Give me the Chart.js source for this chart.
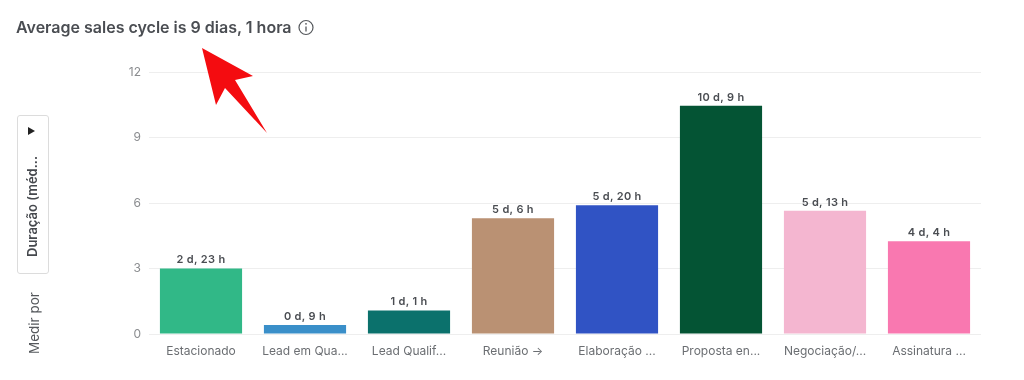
<!DOCTYPE html>
<html>
<head>
<meta charset="utf-8">
<title>Average sales cycle</title>
<script src="https://cdn.jsdelivr.net/npm/chart.js@4"></script>
<style>
  html, body { margin: 0; padding: 0; background: #fff; }
  #page { position: relative; width: 1024px; height: 380px; overflow: hidden; font-family: Inter, sans-serif; }
  #myChart { position: absolute; left: 0; top: 0; }
  #title { position: absolute; left: 16px; top: 18px; font-size: 16px; font-weight: 600; color: #4a4d52; white-space: nowrap; line-height: 18px; }
  #btn { position: absolute; left: 17px; top: 115px; width: 30px; height: 157px; border: 1px solid #dcdcdc; border-radius: 3px; box-sizing: content-box; }
  .rot { position: absolute; transform-origin: 0 0; transform: rotate(-90deg); white-space: nowrap; }
  #overlay { position: absolute; left: 0; top: 0; pointer-events: none; }
</style>
</head>
<body>
<div id="page">
  <canvas id="myChart" width="1024" height="380"></canvas>
  <div id="title">Average sales cycle is 9 dias, 1 hora</div>
  <div id="btn"></div>
  <div class="rot" style="left:24px;top:257px;font-size:13px;font-weight:600;color:#45484d;line-height:16px;">Duração (méd...</div>
  <div class="rot" style="left:26px;top:354px;font-size:13.5px;color:#55585c;line-height:16px;">Medir por</div>
  <svg id="overlay" width="1024" height="380">
    <polygon points="28,127 35,131 28,135" fill="#222"/>
    <circle cx="306" cy="27.5" r="7" fill="none" stroke="#55585c" stroke-width="1.2"/>
    <line x1="306" y1="26.5" x2="306" y2="31.5" stroke="#55585c" stroke-width="1.3"/>
    <circle cx="306" cy="23.8" r="0.9" fill="#55585c"/>
    <polygon points="202,48 253,76 235,80 267,133 225,88 216,105" fill="#f40c10"/>
  </svg>
</div>

<script>
  // values, in days
  var categories = ["Estacionado", "Lead em Qua...", "Lead Qualif...", "Reunião →", "Elaboração ...", "Proposta en...", "Negociação/...", "Assinatura ..."];
  var durations = [3.0, 0.42, 1.08, 5.3, 5.9, 10.45, 5.65, 4.25];
  var durationLabels = ["2 d, 23 h", "0 d, 9 h", "1 d, 1 h", "5 d, 6 h", "5 d, 20 h", "10 d, 9 h", "5 d, 13 h", "4 d, 4 h"];
  var barColors = ["#31b887", "#3a8fc9", "#0b716c", "#ba9173", "#3053c4", "#045434", "#f4b6d0", "#f978b0"];
  var yTicks = [0, 3, 6, 9, 12];

  var barLabels = {
    id: "barLabels",
    afterDatasetsDraw: function(chart) {
      var ctx = chart.ctx;
      var bars = chart.getDatasetMeta(0).data;
      ctx.save();
      ctx.font = "600 11px Inter, sans-serif";
      ctx.letterSpacing = "0.3px";
      ctx.fillStyle = "#4a4d52";
      ctx.textAlign = "center";
      ctx.textBaseline = "bottom";
      bars.forEach(function(bar, i) {
        ctx.fillText(durationLabels[i], bar.x, bar.y - 3);
      });
      ctx.restore();
    }
  };

  var ctx = document.getElementById("myChart").getContext("2d");
  var chart = new Chart(ctx, {
    type: "bar",
    data: {
      labels: categories,
      datasets: [{
        data: durations,
        backgroundColor: barColors,
        categoryPercentage: 1,
        barPercentage: 0.79
      }]
    },
    options: {
      responsive: false,
      animation: false,
      layout: { padding: { left: 0, right: 43, top: 72, bottom: 19.5 } },
      plugins: { legend: { display: false }, tooltip: { enabled: false }, title: { display: false } },
      scales: {
        x: {
          grid: { display: false },
          border: { display: false },
          ticks: { color: "#6b6e72", font: { family: "Inter, sans-serif", size: 12 }, maxRotation: 0, autoSkip: false, padding: 2 }
        },
        y: {
          min: 0,
          max: 12,
          afterFit: function(scale) { scale.width = 149; },
          afterBuildTicks: function(scale) {
            scale.ticks = yTicks.map(function(v) { return { value: v }; });
          },
          grid: { color: "#eeeeee", drawTicks: false },
          border: { display: false },
          ticks: { color: "#8a8c8f", font: { family: "Inter, sans-serif", size: 12 }, padding: 8 }
        }
      }
    },
    plugins: [barLabels]
  });
</script>
</body>
</html>
